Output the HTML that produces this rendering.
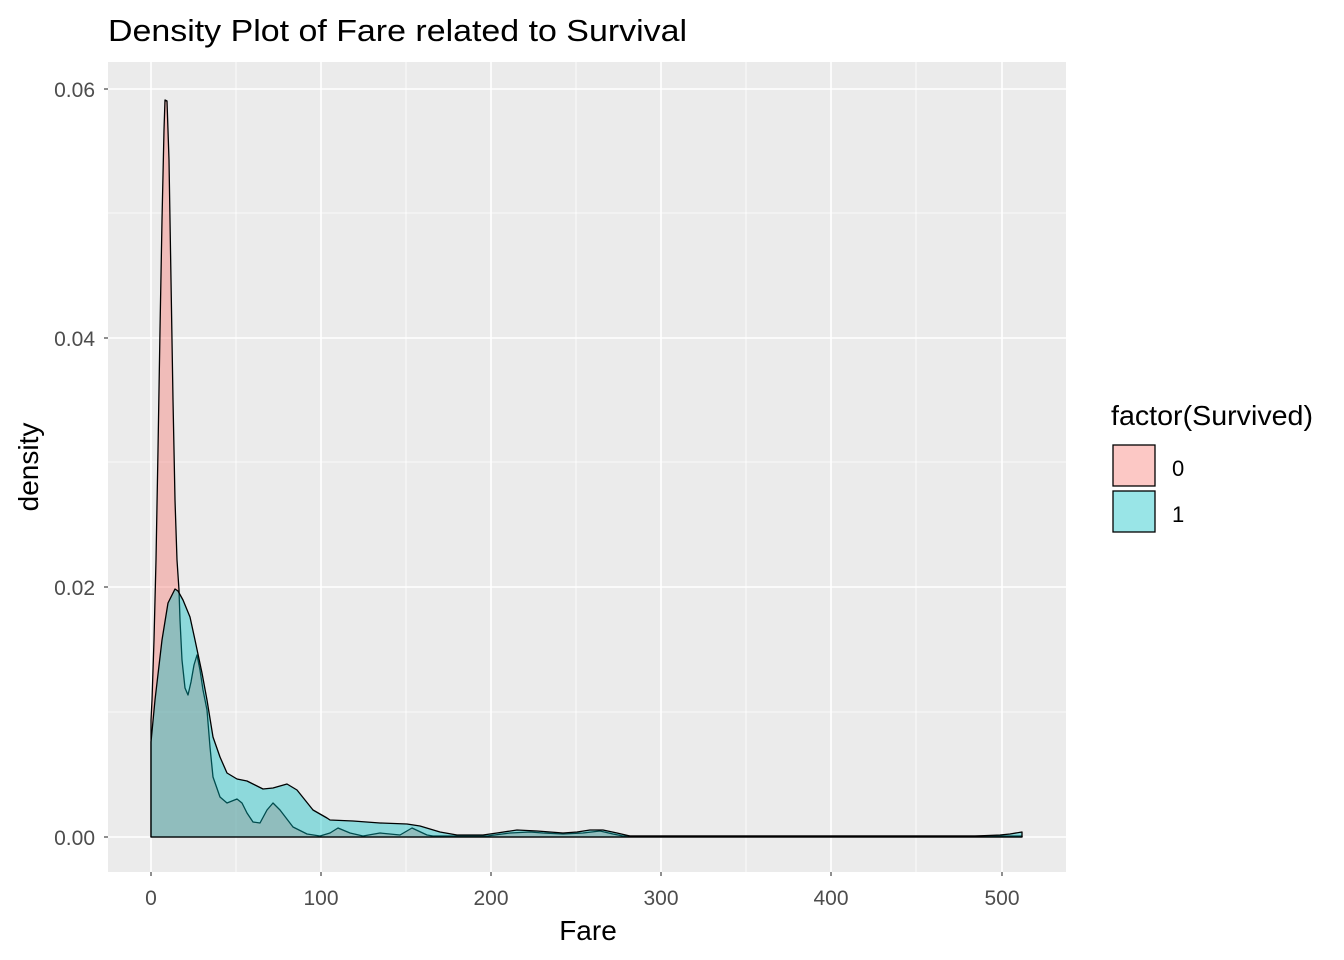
<!DOCTYPE html>
<html><head><meta charset="utf-8"><style>
html,body{margin:0;padding:0;background:#fff;}
svg{display:block;font-family:"Liberation Sans",Arial,sans-serif;}
</style></head><body>
<svg width="1344" height="960" viewBox="0 0 1344 960" xmlns="http://www.w3.org/2000/svg">
<rect width="1344" height="960" fill="#fff"/>
<text x="108" y="41" font-size="31" fill="#000" textLength="579" lengthAdjust="spacingAndGlyphs">Density Plot of Fare related to Survival</text>
<rect x="108" y="62" width="958" height="810" fill="#EBEBEB"/>
<g stroke="#fff" stroke-width="0.8">
<line x1="108" x2="1066" y1="712" y2="712"/><line x1="108" x2="1066" y1="462" y2="462"/><line x1="108" x2="1066" y1="213" y2="213"/>
<line y1="62" y2="872" x1="236" x2="236"/><line y1="62" y2="872" x1="406" x2="406"/><line y1="62" y2="872" x1="576" x2="576"/><line y1="62" y2="872" x1="746" x2="746"/><line y1="62" y2="872" x1="916" x2="916"/>
</g>
<g stroke="#fff" stroke-width="1.6">
<line x1="108" x2="1066" y1="837" y2="837"/><line x1="108" x2="1066" y1="587" y2="587"/><line x1="108" x2="1066" y1="338" y2="338"/><line x1="108" x2="1066" y1="89" y2="89"/>
<line y1="62" y2="872" x1="151" x2="151"/><line y1="62" y2="872" x1="321" x2="321"/><line y1="62" y2="872" x1="491" x2="491"/><line y1="62" y2="872" x1="661" x2="661"/><line y1="62" y2="872" x1="831" x2="831"/><line y1="62" y2="872" x1="1002" x2="1002"/>
</g>
<path d="M151,837 L151,720 152,700 154,640 156,560 158,450 160,330 162,220 164,130 165,100 167,101 169,160 171,280 173,400 175,500 177,560 179,590 180,620 182,660 185,688 188,695 191,682 194,665 197,655 200,670 203,690 207,710 210,747 213,777 220,797 227,803 237,799 242,803 247,813 253,822 260,823 267,810 273,803 280,810 293,827 307,834 320,836 330,833 338,828 350,833 363,836 380,833 400,835 412,828 427,835 433,836 487,836 510,833 530,832 543,833 563,834 583,833 600,831 613,834 623,836 1022,836 L1022,837 Z" fill="#F8766D" fill-opacity="0.4" stroke="#000" stroke-width="1.3" stroke-linejoin="round"/>
<path d="M151,837 L151,742 155,700 162,640 168,603 175,589 178,591 183,600 190,617 195,640 202,673 207,700 213,737 220,757 227,773 237,779 247,781 263,789 273,788 287,784 297,790 313,810 327,818 330,820 353,821 380,823 407,824 420,826 440,832 457,835 483,835 497,833 517,830 537,831 563,833 577,832 590,830 603,830 617,833 630,836 975,836 1000,835 1010,834 1022,832 L1022,837 Z" fill="#00BFC4" fill-opacity="0.4" stroke="#000" stroke-width="1.3" stroke-linejoin="round"/>
<g stroke="#333" stroke-width="1.1">
<line x1="104" x2="108" y1="837" y2="837"/><line x1="104" x2="108" y1="587" y2="587"/><line x1="104" x2="108" y1="338" y2="338"/><line x1="104" x2="108" y1="89" y2="89"/>
<line y1="872" y2="876" x1="151" x2="151"/><line y1="872" y2="876" x1="321" x2="321"/><line y1="872" y2="876" x1="491" x2="491"/><line y1="872" y2="876" x1="661" x2="661"/><line y1="872" y2="876" x1="831" x2="831"/><line y1="872" y2="876" x1="1002" x2="1002"/>
</g>
<g font-size="21" fill="#4D4D4D" text-anchor="end">
<text x="95" y="845">0.00</text><text x="95" y="595">0.02</text><text x="95" y="346">0.04</text><text x="95" y="97">0.06</text>
</g>
<g font-size="21" fill="#4D4D4D" text-anchor="middle">
<text x="151" y="905">0</text><text x="321" y="905">100</text><text x="491" y="905">200</text><text x="661" y="905">300</text><text x="831" y="905">400</text><text x="1002" y="905">500</text>
</g>
<text x="588" y="940" font-size="28" text-anchor="middle" fill="#000">Fare</text>
<text transform="translate(38,467) rotate(-90)" font-size="28" text-anchor="middle" fill="#000">density</text>
<text x="1111" y="425" font-size="28" fill="#000" textLength="202" lengthAdjust="spacingAndGlyphs">factor(Survived)</text>
<rect x="1113" y="445" width="42" height="41" fill="#F8766D" fill-opacity="0.4" stroke="#000" stroke-width="1.3"/>
<rect x="1113" y="491" width="42" height="41" fill="#00BFC4" fill-opacity="0.4" stroke="#000" stroke-width="1.3"/>
<text x="1172" y="476" font-size="22" fill="#000">0</text>
<text x="1172" y="522" font-size="22" fill="#000">1</text>
</svg>
</body></html>
